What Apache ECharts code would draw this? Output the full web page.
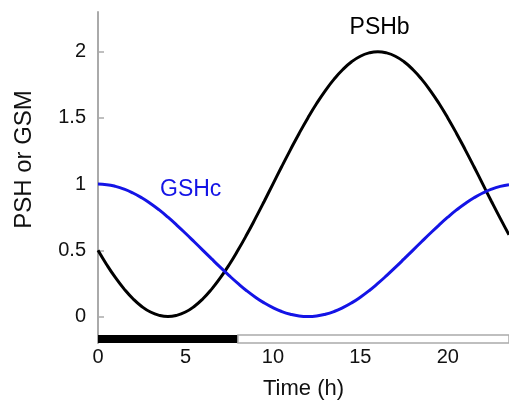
<!DOCTYPE html>
<html>
<head>
<meta charset="utf-8">
<script src="https://cdn.jsdelivr.net/npm/echarts@6/dist/echarts.min.js"></script>
<style>
  html, body { margin: 0; padding: 0; background: #fff; }
  #chart { width: 509px; height: 405px; }
</style>
</head>
<body>
<div id="chart"></div>
<script>
// Half-hourly readings over one day
const hours = [0, 0.5, 1, 1.5, 2, 2.5, 3, 3.5, 4, 4.5, 5, 5.5, 6, 6.5, 7, 7.5, 8, 8.5, 9, 9.5, 10, 10.5, 11, 11.5,
               12, 12.5, 13, 13.5, 14, 14.5, 15, 15.5, 16, 16.5, 17, 17.5, 18, 18.5, 19, 19.5, 20, 20.5, 21, 21.5,
               22, 22.5, 23, 23.5];
const pshb  = [0.500, 0.391, 0.293, 0.207, 0.134, 0.076, 0.034, 0.009, 0.000, 0.009, 0.034, 0.076,
               0.134, 0.207, 0.293, 0.391, 0.500, 0.617, 0.741, 0.869, 1.000, 1.131, 1.259, 1.383,
               1.500, 1.609, 1.707, 1.793, 1.866, 1.924, 1.966, 1.991, 2.000, 1.991, 1.966, 1.924,
               1.866, 1.793, 1.707, 1.609, 1.500, 1.383, 1.259, 1.131, 1.000, 0.869, 0.741, 0.617];
const gshc  = [1.000, 0.996, 0.983, 0.962, 0.933, 0.897, 0.854, 0.805, 0.750, 0.691, 0.629, 0.565,
               0.500, 0.435, 0.371, 0.309, 0.250, 0.195, 0.146, 0.103, 0.067, 0.038, 0.017, 0.004,
               0.000, 0.004, 0.017, 0.038, 0.067, 0.103, 0.146, 0.195, 0.250, 0.309, 0.371, 0.435,
               0.500, 0.565, 0.629, 0.691, 0.750, 0.805, 0.854, 0.897, 0.933, 0.962, 0.983, 0.996];

// Axis ticks
const xTicks = [0, 5, 10, 15, 20];
const yTicks = [0, 0.5, 1, 1.5, 2];

// Dark period (black) and light period (white) of the day bar
const darkPeriod  = [0, 8];
const lightPeriod = [8, 23.5];

const FONT = 'Liberation Sans, Arial, sans-serif';
const BLUE = '#1414e6';

const pair = (xs, ys) => xs.map((x, i) => [x, ys[i]]);

const chart = echarts.init(document.getElementById('chart'), null, { renderer: 'canvas' });

chart.setOption({
  backgroundColor: '#fff',
  animation: false,
  grid: { left: 98, right: 0, top: 12, bottom: 62 },
  xAxis: {
    type: 'value',
    min: 0,
    max: 23.5,
    name: 'Time (h)',
    nameLocation: 'middle',
    nameGap: 35,
    nameTextStyle: { fontFamily: FONT, fontSize: 22, color: '#111' },
    axisLine: { show: false },
    axisTick: { show: false },
    splitLine: { show: false },
    axisLabel: {
      customValues: xTicks,
      margin: 4,
      fontFamily: FONT, fontSize: 20, color: '#111'
    }
  },
  yAxis: {
    type: 'value',
    min: -0.2,
    max: 2.3,
    name: 'PSH or GSM',
    nameLocation: 'middle',
    nameGap: 62,
    nameRotate: 90,
    nameTextStyle: { fontFamily: FONT, fontSize: 24, color: '#111', padding: [0, 0, 0, 36] },
    axisLine: { show: true, lineStyle: { color: '#aaa', width: 2 } },
    axisTick: { show: true, inside: true, length: 6, customValues: yTicks, lineStyle: { color: '#aaa', width: 1.5 } },
    splitLine: { show: false },
    axisLabel: {
      customValues: yTicks,
      margin: 12,
      fontFamily: FONT, fontSize: 20, color: '#111'
    }
  },
  series: [
    {
      name: 'PSHb',
      type: 'line',
      data: pair(hours, pshb),
      smooth: true,
      symbol: 'none',
      lineStyle: { color: '#000', width: 3 },
      markArea: {
        silent: true,
        data: [
          [
            { xAxis: darkPeriod[0], yAxis: -0.2, itemStyle: { color: '#000' } },
            { xAxis: darkPeriod[1], yAxis: -0.14 }
          ],
          [
            { xAxis: lightPeriod[0], yAxis: -0.2, itemStyle: { color: '#fff', borderColor: '#aaa', borderWidth: 1.5 } },
            { xAxis: lightPeriod[1], yAxis: -0.14 }
          ]
        ]
      },
      markPoint: {
        symbol: 'circle',
        symbolSize: 0,
        silent: true,
        label: { show: true, position: 'inside', formatter: 'PSHb', fontFamily: FONT, fontSize: 23, color: '#000' },
        data: [{ coord: [16.1, 2.18] }]
      }
    },
    {
      name: 'GSHc',
      type: 'line',
      data: pair(hours, gshc),
      smooth: true,
      symbol: 'none',
      lineStyle: { color: BLUE, width: 3 },
      markPoint: {
        symbol: 'circle',
        symbolSize: 0,
        silent: true,
        label: { show: true, position: 'inside', formatter: 'GSHc', fontFamily: FONT, fontSize: 23, color: BLUE },
        data: [{ coord: [5.3, 0.955] }]
      }
    }
  ]
});
</script>
</body>
</html>
